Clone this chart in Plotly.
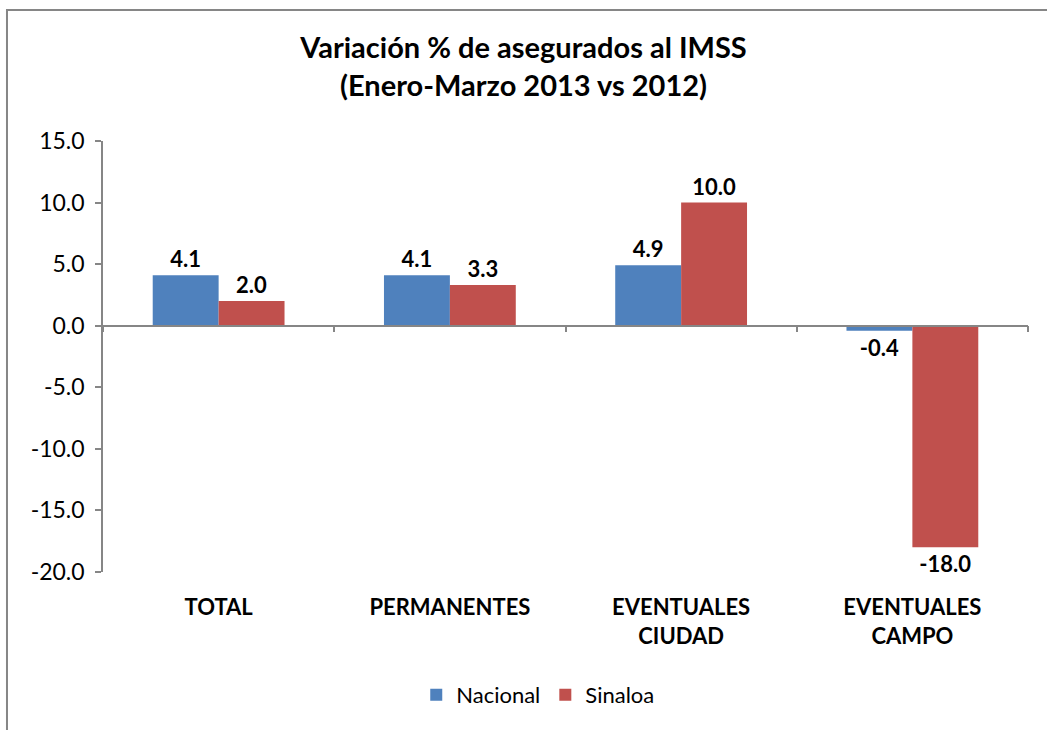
import plotly.graph_objects as go

categories = ["TOTAL", "PERMANENTES", "EVENTUALES<br>CIUDAD", "EVENTUALES<br>CAMPO"]
nacional = [4.1, 4.1, 4.9, -0.4]
sinaloa = [2.0, 3.3, 10.0, -18.0]
y_ticks = [-20, -15, -10, -5, 0, 5, 10, 15]
y_ticktext = ["-20.0", "-15.0", "-10.0", "-5.0", "0.0", "5.0", "10.0", "15.0"]
boundaries = [-0.5, 0.5, 1.5, 2.5, 3.5]

FONT = "Lato"
AXIS_GRAY = "#868686"

fig = go.Figure()
fig.add_trace(go.Bar(
    name="Nacional", x=categories, y=nacional, marker_color="#4F81BD",
    marker_line_width=0,
    text=[f"{v:.1f}" for v in nacional], textposition="outside",
    textfont=dict(family=FONT, size=22, color="black", weight="bold"),
    cliponaxis=False,
))
fig.add_trace(go.Bar(
    name="Sinaloa", x=categories, y=sinaloa, marker_color="#C0504D",
    marker_line_width=0,
    text=[f"{v:.1f}" for v in sinaloa], textposition="outside",
    textfont=dict(family=FONT, size=22, color="black", weight="bold"),
    cliponaxis=False,
))

zero_pos = (0 - y_ticks[0]) / (y_ticks[-1] - y_ticks[0])

fig.update_layout(
    width=1047, height=730,
    margin=dict(l=103, r=19, t=141, b=158),
    paper_bgcolor="white", plot_bgcolor="white",
    barmode="group", bargap=0.43, bargroupgap=0,
    font=dict(family=FONT, size=22, color="black"),
    title=dict(
        text="<b>Variación % de asegurados al IMSS<br>(Enero-Marzo 2013 vs 2012)</b>",
        x=0.5, xanchor="center", y=0.92, yanchor="top",
        font=dict(family=FONT, size=29, color="black"),
    ),
    showlegend=True,
    legend=dict(
        orientation="h", x=0.47, xanchor="center", y=-0.285, yanchor="middle",
        font=dict(family=FONT, size=22, color="black"),
        itemsizing="constant",
    ),
    xaxis=dict(
        type="category", showline=False, ticks="", showgrid=False,
        tickfont=dict(family=FONT, size=22, color="black", weight="bold"),
        range=[-0.5, 3.5], fixedrange=True, ticklabelstandoff=20,
    ),
    xaxis2=dict(
        overlaying="x", anchor="free", position=zero_pos, side="bottom",
        range=[-0.5, 3.5], showline=True, linecolor=AXIS_GRAY, linewidth=1.5,
        ticks="outside", ticklen=6, tickcolor=AXIS_GRAY, tickwidth=1.5,
        tickvals=boundaries, showticklabels=False, showgrid=False, zeroline=False,
    ),
    yaxis=dict(
        range=[y_ticks[0], y_ticks[-1]], tickvals=y_ticks, ticktext=y_ticktext,
        showline=True, linecolor=AXIS_GRAY, linewidth=1.5,
        ticks="outside", ticklen=6, tickcolor=AXIS_GRAY, tickwidth=1.5,
        showgrid=False, zeroline=False, ticklabelstandoff=6,
        tickfont=dict(family=FONT, size=23, color="black"),
    ),
    shapes=[dict(
        type="rect", xref="paper", yref="paper",
        x0=-0.1038, x1=1.2, y0=-0.6, y1=1.304,
        line=dict(color=AXIS_GRAY, width=2), fillcolor="rgba(0,0,0,0)",
        layer="below",
    )],
)

fig.add_trace(go.Scatter(x=[None], y=[None], xaxis="x2", showlegend=False, hoverinfo="skip"))

fig.write_html("out.html", config={"displayModeBar": False},
               post_script="document.body.style.margin='0';")
